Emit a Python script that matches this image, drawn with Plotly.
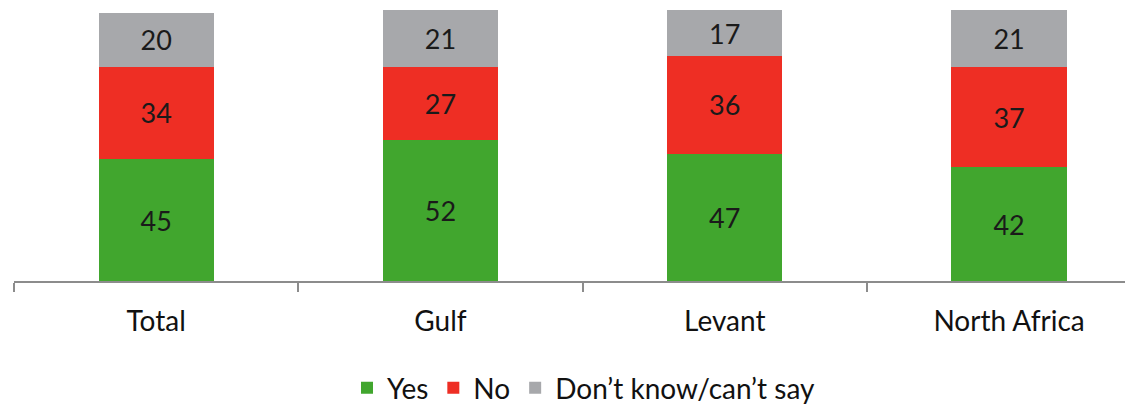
import plotly.graph_objects as go

categories = ["Total", "Gulf", "Levant", "North Africa"]
yes = [45, 52, 47, 42]
no = [34, 27, 36, 37]
dont_know = [20, 21, 17, 21]

series = [
    ("Yes", yes, "#41A62E"),
    ("No", no, "#EE2E24"),
    ("Don\u2019t know/can\u2019t say", dont_know, "#A7A8AB"),
]

FONT = "Lato"

fig = go.Figure()
for name, vals, color in series:
    fig.add_trace(go.Bar(
        x=categories, y=vals, name=name,
        marker=dict(color=color, line=dict(width=0)),
        width=0.405,
        text=vals, texttemplate="%{text}",
        textposition="inside", insidetextanchor="middle",
        textfont=dict(family=FONT, size=27, color="#1a1a1a"),
        textangle=0,
    ))

fig.update_layout(
    barmode="stack",
    width=1125, height=396,
    margin=dict(l=6, r=0, t=2, b=123),
    paper_bgcolor="white", plot_bgcolor="white",
    font=dict(family=FONT, size=28, color="#111111"),
    showlegend=True,
    legend=dict(orientation="h", xref="container", x=0.512, xanchor="center",
                yref="container", y=0.04, yanchor="middle",
                font=dict(family=FONT, size=28, color="#111111"),
                itemsizing="constant", traceorder="normal", itemwidth=30),
    uniformtext=dict(mode="show", minsize=10),
)
fig.update_xaxes(
    type="category", range=[-0.5, 3.436],
    showline=True, linecolor="#8C8C8C", linewidth=2,
    ticks="outside", tickson="boundaries", ticklen=9, tickcolor="#8C8C8C", tickwidth=2,
    showgrid=False, tickfont=dict(family=FONT, size=28, color="#111111"),
    ticklabelstandoff=14,
)
fig.update_yaxes(range=[0, 100], visible=False, showgrid=False)

fig.write_html("out.html")
